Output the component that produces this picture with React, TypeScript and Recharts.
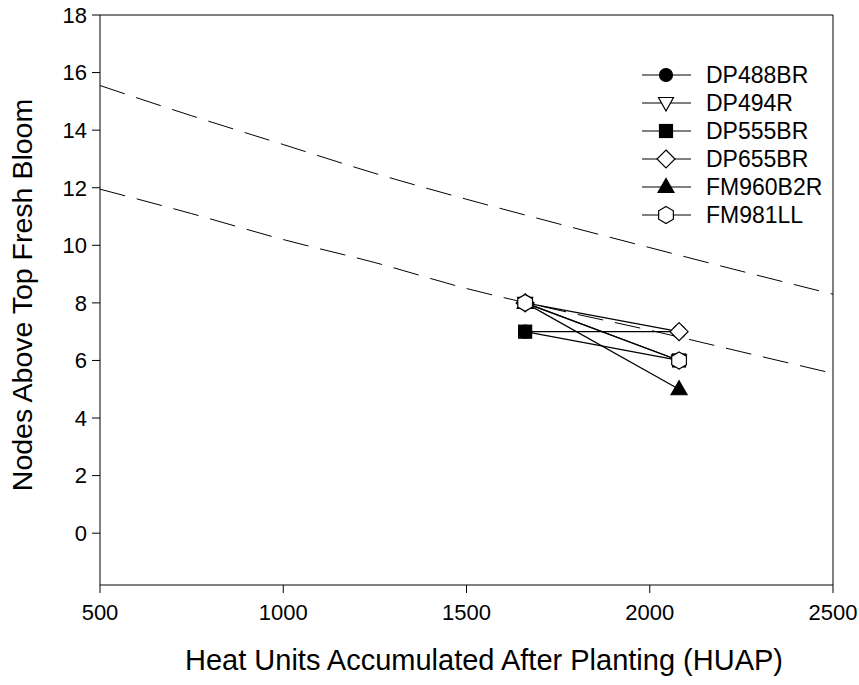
import React from 'react';
import {
  ComposedChart,
  Line,
  Scatter,
  XAxis,
  YAxis,
  ReferenceLine,
} from 'recharts';

// dashed boundary curves
const huap = [500, 750, 1000, 1250, 1500, 1750, 2000, 2250, 2500];
const upperBound = [15.55, 14.5, 13.5, 12.5, 11.6, 10.75, 9.92, 9.1, 8.3];
const lowerBound = [11.95, 11.1, 10.2, 9.4, 8.5, 7.75, 7.05, 6.3, 5.55];

// sampling dates (HUAP) and nodes above top fresh bloom per cultivar
const sampleHuap = [1660, 2080];
const dp488br = [7, 7];
const dp494r = [8, 6];
const dp555br = [7, 6];
const dp655br = [8, 7];
const fm960b2r = [8, 5];
const fm981ll = [8, 6];

const xTicks = [500, 1000, 1500, 2000, 2500];
const yTicks = [0, 2, 4, 6, 8, 10, 12, 14, 16, 18];

const FONT = '"Liberation Sans", Arial, Helvetica, sans-serif';

type Kind = 'circle' | 'triDown' | 'square' | 'diamond' | 'triUp' | 'hexagon';

const series: { name: string; kind: Kind; values: number[] }[] = [
  { name: 'DP488BR', kind: 'circle', values: dp488br },
  { name: 'DP494R', kind: 'triDown', values: dp494r },
  { name: 'DP555BR', kind: 'square', values: dp555br },
  { name: 'DP655BR', kind: 'diamond', values: dp655br },
  { name: 'FM960B2R', kind: 'triUp', values: fm960b2r },
  { name: 'FM981LL', kind: 'hexagon', values: fm981ll },
];

const toPoints = (vals: number[]) => vals.map((y, i) => ({ x: sampleHuap[i], y }));
const curve = (vals: number[]) => vals.map((y, i) => ({ x: huap[i], y }));

const Marker = ({ kind, cx, cy }: { kind: Kind; cx: number; cy: number }) => {
  const s = { stroke: '#000', strokeWidth: 1.2 };
  switch (kind) {
    case 'circle':
      return <circle cx={cx} cy={cy} r={6.5} fill="#000" {...s} />;
    case 'triDown':
      return (
        <polygon
          points={`${cx - 7.5},${cy - 5.5} ${cx + 7.5},${cy - 5.5} ${cx},${cy + 8}`}
          fill="#fff"
          {...s}
        />
      );
    case 'square':
      return <rect x={cx - 6.5} y={cy - 6.5} width={13} height={13} fill="#000" {...s} />;
    case 'diamond':
      return (
        <polygon
          points={`${cx},${cy - 9} ${cx + 9},${cy} ${cx},${cy + 9} ${cx - 9},${cy}`}
          fill="#fff"
          {...s}
        />
      );
    case 'triUp':
      return (
        <polygon
          points={`${cx},${cy - 8.5} ${cx + 8},${cy + 5.5} ${cx - 8},${cy + 5.5}`}
          fill="#000"
          {...s}
        />
      );
    default: {
      const pts = [0, 1, 2, 3, 4, 5]
        .map((k) => {
          const a = ((-90 + 60 * k) * Math.PI) / 180;
          return `${cx + 8.5 * Math.cos(a)},${cy + 8.5 * Math.sin(a)}`;
        })
        .join(' ');
      return <polygon points={pts} fill="#fff" {...s} />;
    }
  }
};

const LegendBox = () => (
  <svg
    width={220}
    height={180}
    style={{ position: 'absolute', left: 634, top: 61 }}
  >
    {series.map((s, i) => {
      const y = 14 + i * 28;
      return (
        <g key={s.name}>
          <line x1={8} x2={57} y1={y} y2={y} stroke="#000" strokeWidth={1} />
          <Marker kind={s.kind} cx={32} cy={y} />
          <text x={72} y={y} dy="0.36em" fontSize={23} fontFamily={FONT} fill="#000">
            {s.name}
          </text>
        </g>
      );
    })}
  </svg>
);

export default function App() {
  return (
    <div style={{ position: 'absolute', left: 0, top: 0, width: 859, height: 685, overflow: 'hidden' }}>
      <ComposedChart
        width={859}
        height={685}
        margin={{ top: 15, right: 26, bottom: 0, left: 8 }}
      >
        <XAxis
          dataKey="x"
          type="number"
          domain={[500, 2500]}
          ticks={xTicks}
          allowDataOverflow
          height={100}
          stroke="#000"
          tickSize={8}
          tickMargin={11}
          tick={{ fill: '#000', fontSize: 22, fontFamily: FONT }}
          label={{
            content: () => (
              <text
                x={484}
                y={660}
                textAnchor="middle"
                dy="0.36em"
                fontSize={29}
                fontFamily={FONT}
                fill="#000"
              >
                Heat Units Accumulated After Planting (HUAP)
              </text>
            ),
          }}
        />
        <YAxis
          dataKey="y"
          type="number"
          domain={[-1.8, 18]}
          ticks={yTicks}
          allowDataOverflow
          width={92}
          stroke="#000"
          tickSize={8}
          tickMargin={5}
          tick={{ fill: '#000', fontSize: 22, fontFamily: FONT }}
          label={{
            content: () => (
              <text
                x={22}
                y={295}
                textAnchor="middle"
                dy="0.36em"
                fontSize={28.5}
                fontFamily={FONT}
                fill="#000"
                transform="rotate(-90 22 295)"
              >
                Nodes Above Top Fresh Bloom
              </text>
            ),
          }}
        />
        <ReferenceLine y={18} stroke="#000" />
        <ReferenceLine x={2500} stroke="#000" />
        <Line
          data={curve(upperBound)}
          dataKey="y"
          type="monotone"
          stroke="#000"
          strokeWidth={1}
          strokeDasharray="26 12"
          dot={false}
          activeDot={false}
          isAnimationActive={false}
        />
        <Line
          data={curve(lowerBound)}
          dataKey="y"
          type="monotone"
          stroke="#000"
          strokeWidth={1}
          strokeDasharray="26 12"
          dot={false}
          activeDot={false}
          isAnimationActive={false}
        />
        {series.map((s) => (
          <Scatter
            key={s.name}
            name={s.name}
            data={toPoints(s.values)}
            line={{ stroke: '#000', strokeWidth: 1.2 }}
            lineType="joint"
            shape={(p: any) => <Marker kind={s.kind} cx={p.cx} cy={p.cy} />}
            isAnimationActive={false}
          />
        ))}
      </ComposedChart>
      <LegendBox />
    </div>
  );
}
